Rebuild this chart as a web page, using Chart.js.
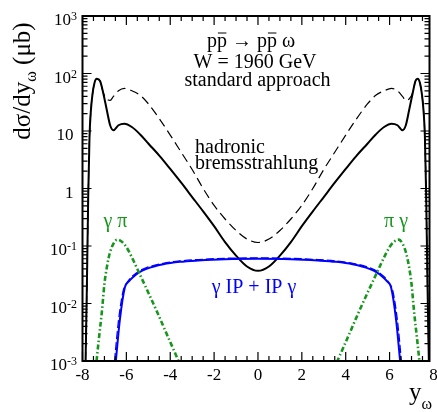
<!DOCTYPE html>
<html>
<head>
<meta charset="utf-8">
<script src="https://cdn.jsdelivr.net/npm/chart.js@4.4.1/dist/chart.umd.min.js"></script>
<style>
  html, body { margin: 0; padding: 0; background: #fff; overflow: hidden; }
</style>
</head>
<body>
<canvas id="c" width="437" height="412"></canvas>
<script>
// Rapidity grid and dσ/dy (μb) for hadronic bremsstrahlung: full result (solid) and variant (dashed)
const bremsRapidity = [-7.86, -7.80, -7.74, -7.68, -7.62, -7.55, -7.46, -7.35, -7.20, -7.05, -6.89, -6.74, -6.59, -6.36,
  -6.09, -5.75, -5.37, -4.99, -4.47, -4.00, -3.50, -3.00, -2.50, -2.00, -1.50, -1.00, -0.50, 0.00,
  0.50, 1.00, 1.50, 2.00, 2.50, 3.00, 3.50, 4.00, 4.47, 4.99, 5.37, 5.75, 6.09, 6.36,
  6.59, 6.74, 6.89, 7.05, 7.18, 7.28, 7.39, 7.48, 7.55, 7.61, 7.67, 7.73, 7.79];
const bremsSolid = [0.001, 0.02, 0.7, 8, 22, 42, 67, 81, 74, 45, 23, 12.6, 10.3, 12.6,
  13.4, 11.75, 8.7, 6.0, 3.63, 2.19, 1.26, 0.71, 0.40, 0.221, 0.117, 0.068, 0.044, 0.037,
  0.044, 0.068, 0.117, 0.221, 0.40, 0.71, 1.26, 2.19, 3.63, 6.0, 8.7, 11.75, 13.4, 12.6,
  10.3, 12.6, 23, 45, 74, 81, 67, 42, 22, 8, 0.7, 0.02, 0.001];
const bremsDashed = [0.001, 0.02, 0.7, 8, 22, 42, 67, 81, 74, 46, 36, 34, 40, 50,
  55, 50, 41.7, 29.5, 15.8, 8.5, 4.27, 2.14, 1.0, 0.51, 0.295, 0.186, 0.132, 0.115,
  0.132, 0.186, 0.295, 0.51, 1.0, 2.14, 4.27, 8.5, 15.8, 29.5, 41.7, 50, 55, 50,
  40, 34, 36, 46, 74, 81, 67, 42, 22, 8, 0.7, 0.02, 0.001];

// Photon–pion fusion, forward (γ π) and backward (π γ)
const gammaPiRapidity = [-7.36, -7.25, -7.12, -7.00, -6.88, -6.76, -6.60, -6.42, -6.22, -6.00, -5.77, -5.54, -5.08, -4.63, -4.17, -3.67, -3.60];
const gammaPiValues = [0.001, 0.0025, 0.007, 0.022, 0.045, 0.074, 0.108, 0.129, 0.12, 0.096, 0.066, 0.043, 0.018, 0.0076, 0.003, 0.0011, 0.00095];
const piGammaRapidity = [3.60, 3.67, 4.17, 4.63, 5.08, 5.54, 5.77, 6.00, 6.22, 6.42, 6.60, 6.76, 6.88, 7.00, 7.12, 7.25, 7.36];
const piGammaValues = [0.00095, 0.0011, 0.003, 0.0076, 0.018, 0.043, 0.066, 0.096, 0.12, 0.129, 0.108, 0.074, 0.045, 0.022, 0.007, 0.0025, 0.001];

// Photon–pomeron fusion (γ IP + IP γ), two variants
const gammaPomRapidity = [-6.48, -6.30, -6.07, -5.90, -5.69, -5.40, -5.08, -4.32, -3.56, -2.73, -1.50, 0.00,
  1.50, 2.73, 3.56, 4.32, 5.08, 5.40, 5.69, 5.90, 6.07, 6.30, 6.48];
const gammaPomSolid = [0.001, 0.0051, 0.019, 0.024, 0.029, 0.035, 0.040, 0.048, 0.053, 0.056, 0.059, 0.060,
  0.059, 0.056, 0.053, 0.048, 0.040, 0.035, 0.029, 0.024, 0.019, 0.0051, 0.001];
const gammaPomDashedRapidity = [-6.54, -6.36, -6.14, -6.00, -5.80, -5.40, -5.08, -4.32, -3.56, -2.73, -1.50, 0.00,
  1.50, 2.73, 3.56, 4.32, 5.08, 5.40, 5.80, 6.00, 6.14, 6.36, 6.54];
const gammaPomDashed = [0.001, 0.005, 0.017, 0.022, 0.028, 0.037, 0.042, 0.050, 0.055, 0.058, 0.061, 0.062,
  0.061, 0.058, 0.055, 0.050, 0.042, 0.037, 0.028, 0.022, 0.017, 0.005, 0.001];

// Axis ticks
const xTickValues = [-8, -6, -4, -2, 0, 2, 4, 6, 8];
const yTickValues = [0.001, 0.01, 0.1, 1, 10, 100, 1000];
const yTickBase = ['10', '10', '10', '1', '10', '10', '10'];
const yTickExp = ['-3', '-2', '-1', '', '', '2', '3'];

const SERIF = '"Liberation Serif", "Times New Roman", serif';
const GREEN = '#16961c';
const BLUE = '#0000ff';

function pts(xs, ys) { return xs.map((x, i) => ({ x: x, y: ys[i] })); }

// Draw a sequence of text runs (different fonts / offsets / overbars) as one line
function drawRuns(ctx, runs, x, y, align, color) {
  ctx.save();
  ctx.translate(x, y);
  ctx.fillStyle = color || '#000';
  ctx.strokeStyle = color || '#000';
  ctx.textAlign = 'left';
  ctx.textBaseline = 'alphabetic';
  let total = 0;
  runs.forEach(r => { ctx.font = r.font; r.w = ctx.measureText(r.text).width; total += r.w; });
  let cx = align === 'center' ? -total / 2 : (align === 'right' ? -total : 0);
  runs.forEach(r => {
    ctx.font = r.font;
    ctx.fillText(r.text, cx, r.dy || 0);
    if (r.bar) {
      ctx.lineWidth = 1;
      ctx.beginPath();
      ctx.moveTo(cx + 1, r.bar);
      ctx.lineTo(cx + r.w - 0.5, r.bar);
      ctx.stroke();
    }
    cx += r.w;
  });
  ctx.restore();
}

const frameAndText = {
  id: 'frameAndText',
  afterDatasetsDraw(chart) {
    const { ctx, chartArea: a, scales: { x, y } } = chart;
    ctx.save();
    ctx.strokeStyle = '#000';
    ctx.lineWidth = 1.2;
    ctx.beginPath();
    // x ticks every 0.5, majors every 2 (bottom and top edges)
    for (let v = -8; v <= 8.001; v += 0.5) {
      const px = x.getPixelForValue(v);
      if (px < a.left - 0.5 || px > a.right + 0.5) continue;
      const len = Math.abs(v % 2) < 1e-6 ? 9 : 5;
      ctx.moveTo(px, a.bottom); ctx.lineTo(px, a.bottom - len);
      ctx.moveTo(px, a.top); ctx.lineTo(px, a.top + len);
    }
    // log y ticks (left and right edges)
    for (let e = -3; e <= 3; e++) {
      for (let m = 1; m <= 9; m++) {
        if (e === 3 && m > 1) break;
        const py = y.getPixelForValue(m * Math.pow(10, e));
        const len = m === 1 ? 9 : 5;
        ctx.moveTo(a.left, py); ctx.lineTo(a.left + len, py);
        ctx.moveTo(a.right, py); ctx.lineTo(a.right - len, py);
      }
    }
    ctx.stroke();
    ctx.lineWidth = 2;
    ctx.strokeRect(a.left, a.top, a.right - a.left, a.bottom - a.top);
    ctx.restore();

    // x tick labels
    ctx.save();
    ctx.fillStyle = '#000';
    ctx.font = '17px ' + SERIF;
    ctx.textAlign = 'center';
    ctx.textBaseline = 'alphabetic';
    xTickValues.forEach(v => {
      ctx.fillText(String(v), x.getPixelForValue(v), a.bottom + 19);
    });
    ctx.restore();

    // y tick labels with superscript exponents
    yTickValues.forEach((v, i) => {
      const py = y.getPixelForValue(v);
      if (yTickExp[i]) {
        drawRuns(ctx, [
          { text: yTickBase[i], font: '17px ' + SERIF, dy: 9 },
          { text: yTickExp[i], font: '12px ' + SERIF, dy: 4 }
        ], a.left - 5.5, py, 'right');
      } else {
        drawRuns(ctx, [{ text: yTickBase[i], font: '17px ' + SERIF, dy: 9 }], a.left - 9, py, 'right');
      }
    });

    // axis titles
    ctx.save();
    ctx.translate(30, 81);
    ctx.rotate(-Math.PI / 2);
    drawRuns(ctx, [
      { text: 'dσ/dy', font: '25px ' + SERIF },
      { text: 'ω', font: '16px ' + SERIF, dy: 6 },
      { text: ' (μb)', font: '25px ' + SERIF }
    ], 0, 0, 'center');
    ctx.restore();
    drawRuns(ctx, [
      { text: 'y', font: '25px ' + SERIF },
      { text: 'ω', font: '16px ' + SERIF, dy: 9 }
    ], 409, 400, 'left');

    // reaction / energy / approach labels
    const f20 = '20px ' + SERIF;
    drawRuns(ctx, [
      { text: 'p', font: f20 }, { text: 'p', font: f20, bar: -13.5 },
      { text: ' → ', font: f20 },
      { text: 'p', font: f20 }, { text: 'p', font: f20, bar: -13.5 },
      { text: ' ω', font: f20 }
    ], 251, 46.5, 'center');
    drawRuns(ctx, [{ text: 'W = 1960 GeV', font: f20 }], 255, 68, 'center');
    drawRuns(ctx, [{ text: 'standard approach', font: f20 }], 257.5, 86, 'center');
    drawRuns(ctx, [{ text: 'hadronic', font: f20 }], 195, 152.5, 'left');
    drawRuns(ctx, [{ text: 'bremsstrahlung', font: f20 }], 195, 168.5, 'left');
    drawRuns(ctx, [{ text: 'γ π', font: f20 }], 115.5, 227, 'center', GREEN);
    drawRuns(ctx, [{ text: 'π γ', font: f20 }], 396, 227, 'center', GREEN);
    drawRuns(ctx, [{ text: 'γ IP + IP γ', font: f20 }], 254, 293, 'center', BLUE);
  }
};

const line = (data, color, width, dash) => ({
  data: data,
  showLine: true,
  borderColor: color,
  borderWidth: width,
  borderDash: dash,
  pointRadius: 0,
  fill: false,
  cubicInterpolationMode: 'monotone'
});

new Chart(document.getElementById('c'), {
  type: 'scatter',
  data: {
    datasets: [
      line(pts(gammaPiRapidity, gammaPiValues), GREEN, 2.6, [5, 2.5, 1.5, 2.5]),
      line(pts(piGammaRapidity, piGammaValues), GREEN, 2.6, [5, 2.5, 1.5, 2.5]),
      line(pts(gammaPomRapidity, gammaPomSolid), BLUE, 2, []),
      line(pts(gammaPomDashedRapidity, gammaPomDashed), BLUE, 1.3, [8, 3]),
      line(pts(bremsRapidity, bremsSolid), '#000', 2, []),
      line(pts(bremsRapidity, bremsDashed), '#000', 1.2, [9, 5])
    ]
  },
  options: {
    responsive: false,
    animation: false,
    events: [],
    layout: { padding: { left: 82.5, right: 7.5, top: 16, bottom: 51 } },
    plugins: { legend: { display: false }, tooltip: { enabled: false } },
    scales: {
      x: { type: 'linear', min: -8, max: 7.82, display: false },
      y: { type: 'logarithmic', min: 0.001, max: 1000, display: false }
    }
  },
  plugins: [frameAndText]
});
</script>
</body>
</html>
